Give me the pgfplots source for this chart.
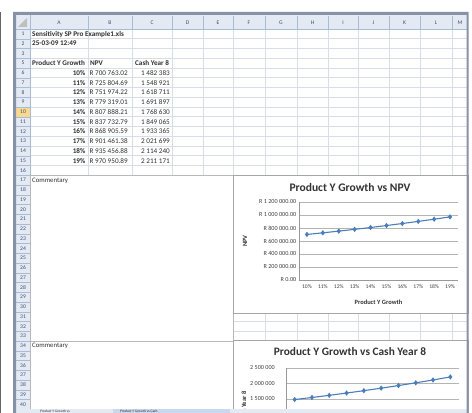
\documentclass[border=0pt]{standalone}
\usepackage{pgfplots}
\pgfplotsset{compat=1.18}
\usepackage{fontspec}
\setmainfont{Carlito}
\definecolor{frame}{HTML}{8792A6}
\definecolor{gridc}{HTML}{D8DEE8}
\definecolor{hdr}{HTML}{E4EAF4}
\definecolor{hdrline}{HTML}{A9BCD4}
\definecolor{hdrtxt}{HTML}{3B4E6B}
\definecolor{sel}{HTML}{F9D98F}
\definecolor{series}{HTML}{4A7EBB}
\definecolor{chartgrid}{HTML}{B4B4B4}
\definecolor{txt}{HTML}{303030}
\definecolor{tab}{HTML}{C9D8EE}
\newcommand{\fs}[1]{\fontsize{#1}{#1}\selectfont}

\begin{document}
\begin{tikzpicture}
\useasboundingbox (0,0) rectangle (472bp,413bp);
\clip (0,0) rectangle (472bp,413bp);
\fill[white] (0,0) rectangle (472bp,413bp);
\begin{scope}[yshift=413bp,x=1bp,y=-1bp]
  \fill[black!60] (0,12) rectangle (1.2,413);
  \fill[white] (16,15) rectangle (467,413);
  % grid
  \foreach \i in {0,...,39} {\draw[gridc,line width=0.5bp] (30,{29+9.75*\i}) -- (467,{29+9.75*\i});}
  \foreach \x in {30,88,132,172,203,233,265,297,328,358,389,420,452} {\draw[gridc,line width=0.5bp] (\x,15) -- (\x,413);}
  % header row
  \fill[hdr] (16,15) rectangle (467,29);
  \draw[hdrline,line width=0.4bp] (16,29) -- (467,29);
  \foreach \x in {30,88,132,172,203,233,265,297,328,358,389,420,452} {\draw[hdrline,line width=0.4bp] (\x,16) -- (\x,29);}
  \foreach \x/\l in {59/A,110/B,152/C,187.5/D,218/E,249/F,281/G,312.5/H,343/I,373.5/J,404.5/K,436/L,460/M}
    {\node[font=\fs{5.6},text=hdrtxt,inner sep=0] at (\x,22.5) {\l};}
  % row header column
  \fill[hdr] (16,29) rectangle (30,413);
  \fill[sel] (16,{29+9.75*8}) rectangle (30,{29+9.75*9});
  \draw[hdrline,line width=0.4bp] (30,15) -- (30,413);
  \foreach \i in {0,...,39} {\draw[hdrline,line width=0.4bp] (16,{29+9.75*\i}) -- (30,{29+9.75*\i});}
  \fill[gray!50] (27,18) -- (27,27) -- (18,27) -- cycle;
  \foreach \i in {0,...,38} {
    \pgfmathtruncatemacro{\r}{\i<3 ? \i+1 : \i+2}
    \node[font=\fs{5.6},text=hdrtxt,inner sep=0] at (23,{29+9.75*\i+4.9}) {\r};
  }
  % merged commentary cells
  \filldraw[fill=white,draw=gray!55,line width=0.5bp] (30,175.25) rectangle (233,341);
  \filldraw[fill=white,draw=gray!55,line width=0.5bp] (30,341) rectangle (233,430);
  \node[font=\fs{6.8},text=txt,anchor=base west,inner sep=0] at (32,182.5) {Commentary};
  \node[font=\fs{6.8},text=txt,anchor=base west,inner sep=0] at (32,348) {Commentary};
  % chart boxes
  \filldraw[fill=white,draw=gray!70,line width=0.6bp] (233,175.5) rectangle (468,313);
  \filldraw[fill=white,draw=gray!70,line width=0.6bp] (233,340) rectangle (468,430);
  \node[font=\bfseries\fs{11.6},text=black!80,inner sep=0] at (350,187) {Product Y Growth vs NPV};
  \node[font=\bfseries\fs{11.4},text=black!80,inner sep=0] at (350,352) {Product Y Growth vs Cash Year 8};
  % table text
  \begin{scope}[every node/.style={inner sep=0,text=txt}]
  \node[font=\bfseries\fs{7.2},anchor=base west] at (32,36.3) {Sensitivity SP Pro Example1.xls};
  \node[font=\bfseries\fs{7.2},anchor=base west] at (32,46) {25-03-09 12:49};
  \node[font=\bfseries\fs{7.2},anchor=base west] at (32,65.5) {Product Y Growth};
  \node[font=\bfseries\fs{7.2},anchor=base west] at (90,65.5) {NPV};
  \node[font=\bfseries\fs{7.2},anchor=base west] at (135,65.5) {Cash Year 8};
  \foreach \i/\p/\n/\c in {0/10/R 700 763.02/1 482 383, 1/11/R 725 804.69/1 548 921, 2/12/R 751 974.22/1 618 711,
     3/13/R 779 319.01/1 691 897, 4/14/R 807 888.21/1 768 630, 5/15/R 837 732.79/1 849 065,
     6/16/R 868 905.59/1 933 365, 7/17/R 901 461.38/2 021 699, 8/18/R 935 456.88/2 114 240,
     9/19/R 970 950.89/2 211 171} {
    \node[font=\bfseries\fs{7.2},anchor=base east] at (85.5,{75.3+9.75*\i}) {\p\%};
    \node[font=\fs{7.2},anchor=base west] at (89.5,{75.3+9.75*\i}) {\n};
    \node[font=\fs{7.2},anchor=base east] at (170,{75.3+9.75*\i}) {\c};
  }
  \end{scope}
\end{scope}

% Chart 1: NPV
\begin{axis}[
  at={(299bp,133bp)}, anchor=south west,
  scale only axis, width=159bp, height=78bp,
  xmin=-0.5, xmax=9.5, ymin=0, ymax=1200000,
  xtick={0,...,9},
  xticklabels={10\%,11\%,12\%,13\%,14\%,15\%,16\%,17\%,18\%,19\%},
  ytick={0,200000,400000,600000,800000,1000000,1200000},
  yticklabels={R 0.00,R 200 000.00,R 400 000.00,R 600 000.00,R 800 000.00,R 1 000 000.00,R 1 200 000.00},
  scaled y ticks=false,
  axis x line*=bottom, axis y line*=left,
  axis line style={-,draw=gray!80,line width=0.5bp},
  ymajorgrids, grid style={draw=chartgrid,line width=0.5bp},
  major tick length=0pt,
  x tick label style={font=\fs{5.6},text=black!75,inner sep=0,yshift=-4.5bp},
  y tick label style={font=\fs{6.2},text=black!75,inner sep=0,xshift=-2.5bp},
  xlabel={Product Y Growth},
  xlabel style={font=\bfseries\fs{6.5},text=black!80,at={(axis description cs:0.5,-0.28)},anchor=center,inner sep=0},
  ylabel={NPV},
  ylabel style={font=\bfseries\fs{6.5},text=black!80,at={(axis description cs:-0.34,0.5)},anchor=center,inner sep=0},
]
\addplot[series,line width=1.1bp,mark=diamond*,mark size=1.8bp,mark options={fill=series,draw=series}]
  coordinates {(0,700763.02) (1,725804.69) (2,751974.22) (3,779319.01) (4,807888.21)
               (5,837732.79) (6,868905.59) (7,901461.38) (8,935456.88) (9,970950.89)};
\end{axis}

% Chart 2: Cash Year 8 (lower part hidden below the window edge)
\begin{axis}[
  at={(286bp,-32.5bp)}, anchor=south west,
  scale only axis, width=173bp, height=77.5bp,
  xmin=-0.5, xmax=9.5, ymin=0, ymax=2500000,
  xtick={0,...,9},
  xticklabels={},
  ytick={1500000,2000000,2500000},
  yticklabels={1 500 000,2 000 000,2 500 000},
  extra y ticks={0,500000,1000000},
  extra y tick labels={},
  extra y tick style={grid=major},
  scaled y ticks=false,
  axis x line*=bottom, axis y line*=left,
  axis line style={-,draw=gray!80,line width=0.5bp},
  ymajorgrids, grid style={draw=chartgrid,line width=0.5bp},
  major tick length=0pt,
  y tick label style={font=\fs{6.2},text=black!75,inner sep=0,xshift=-11bp},
  ylabel={Cash Year 8},
  ylabel style={font=\bfseries\fs{6.5},text=black!80,at={(axis description cs:-0.243,0.5)},anchor=center,inner sep=0},
]
\addplot[series,line width=1.1bp,mark=diamond*,mark size=1.8bp,mark options={fill=series,draw=series}]
  coordinates {(0,1482383) (1,1548921) (2,1618711) (3,1691897) (4,1768630)
               (5,1849065) (6,1933365) (7,2021699) (8,2114240) (9,2211171)};
\end{axis}

\begin{scope}[yshift=413bp,x=1bp,y=-1bp]
  % sheet tab bar
  \fill[hdr] (16,409.3) rectangle (467,413);
  \fill[tab] (113,409.3) rectangle (230,413);
  \node[font=\fs{3.6},text=txt,anchor=base west,inner sep=0] at (40,412.4) {Product Y Growth vs};
  \node[font=\fs{3.6},text=txt,anchor=base west,inner sep=0] at (120,412.4) {Product Y Growth vs Cash};
  % window frame
  \fill[frame,even odd rule] (13,12) rectangle (468.5,420) (16,15) rectangle (466.5,420);
\end{scope}
\end{tikzpicture}
\end{document}
